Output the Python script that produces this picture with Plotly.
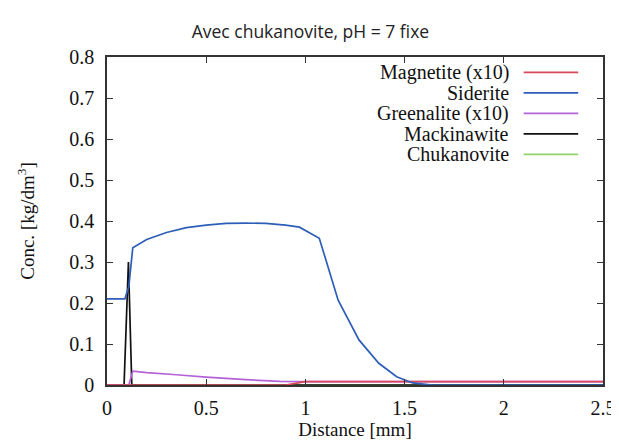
import plotly.graph_objects as go

# Series (distance in mm, concentration in kg/dm3)
names = ["Magnetite (x10)", "Siderite", "Greenalite (x10)", "Mackinawite", "Chukanovite"]
colors = ["#d8485a", "#2d5fb8", "#b463d6", "#111111", "#8fd36a"]

siderite_x = [0, 0.09, 0.11, 0.13, 0.2, 0.3, 0.4, 0.5, 0.6, 0.7, 0.8, 0.9, 0.97, 1.07,
              1.165, 1.27, 1.37, 1.46, 1.54, 1.64, 2.0, 2.5]
siderite_y = [0.21, 0.21, 0.24, 0.335, 0.355, 0.372, 0.384, 0.39, 0.394, 0.395, 0.394,
              0.39, 0.385, 0.358, 0.207, 0.11, 0.053, 0.02, 0.005, 0, 0, 0]

greenalite_x = [0, 0.11, 0.13, 0.2, 0.35, 0.5, 0.7, 0.87, 1.0, 1.5, 2.0, 2.5]
greenalite_y = [0, 0, 0.034, 0.03, 0.025, 0.019, 0.013, 0.009, 0.008, 0.008, 0.008, 0.008]

magnetite_x = [0, 0.9, 1.0, 1.5, 2.0, 2.5]
magnetite_y = [0, 0, 0.008, 0.008, 0.008, 0.008]

mackinawite_x = [0, 0.086, 0.108, 0.125, 0.5, 1.0, 1.5, 2.0, 2.5]
mackinawite_y = [0, 0, 0.30, 0, 0, 0, 0, 0, 0]

chukanovite_x = [0, 0.5, 1.0, 1.5, 2.0, 2.5]
chukanovite_y = [0, 0, 0, 0, 0, 0]

x_ticks = [0, 0.5, 1, 1.5, 2, 2.5]
x_tick_text = ["0", "0.5", "1", "1.5", "2", "2.5"]
y_ticks = [0, 0.1, 0.2, 0.3, 0.4, 0.5, 0.6, 0.7, 0.8]
y_tick_text = ["0", "0.1", "0.2", "0.3", "0.4", "0.5", "0.6", "0.7", "0.8"]

series = [
    (magnetite_x, magnetite_y),
    (siderite_x, siderite_y),
    (greenalite_x, greenalite_y),
    (mackinawite_x, mackinawite_y),
    (chukanovite_x, chukanovite_y),
]

serif = "Liberation Serif"

fig = go.Figure()
# chukanovite underneath, others on top roughly like gnuplot's draw order
order = [4, 3, 2, 0, 1]
for i in order:
    xs, ys = series[i]
    fig.add_trace(go.Scatter(x=xs, y=ys, mode="lines", name=names[i],
                             line=dict(color=colors[i], width=1.7), showlegend=False))

# gnuplot-like key: right-aligned text, line sample on the right
for k, name in enumerate(names):
    yk = 0.953 - k * 0.0625
    fig.add_annotation(x=0.814, y=yk, xref="paper", yref="paper", text=name,
                       showarrow=False, xanchor="right", yanchor="middle",
                       font=dict(family=serif, size=20, color="#111"))
    fig.add_shape(type="line", xref="paper", yref="paper",
                  x0=0.84, x1=0.95, y0=yk, y1=yk,
                  line=dict(color=colors[k], width=1.7))

# the page body adds an 8px offset, so the figure is a bit smaller than the window
fig.update_layout(
    width=611, height=440,
    margin=dict(l=99, r=16, t=49, b=63, autoexpand=False),
    paper_bgcolor="white", plot_bgcolor="white",
    title=dict(text="Avec chukanovite, pH = 7 fixe", x=0.495, xanchor="center",
               y=0.945, yanchor="middle", yref="container",
               font=dict(family="Open Sans", size=17.5, color="#222")),
    font=dict(family=serif, size=20, color="#111"),
)
fig.update_xaxes(range=[0, 2.5], tickvals=x_ticks, ticktext=x_tick_text,
                 ticks="inside", ticklen=6, tickcolor="#333", mirror="allticks",
                 showline=True, linecolor="#333", linewidth=1.5, showgrid=False,
                 zeroline=False, automargin=False, ticklabelstandoff=4,
                 title=dict(text="Distance [mm]", standoff=4,
                            font=dict(family=serif, size=19)),
                 tickfont=dict(family=serif, size=20))
fig.update_yaxes(range=[0, 0.8], tickvals=y_ticks, ticktext=y_tick_text,
                 ticks="inside", ticklen=6, tickcolor="#333", mirror="allticks",
                 showline=True, linecolor="#333", linewidth=1.5, showgrid=False,
                 zeroline=False, automargin=False, ticklabelstandoff=7,
                 title=dict(text="Conc. [kg/dm<sup>3</sup>]", standoff=30,
                            font=dict(family=serif, size=19)),
                 tickfont=dict(family=serif, size=20))

fig.write_html("out.html")
